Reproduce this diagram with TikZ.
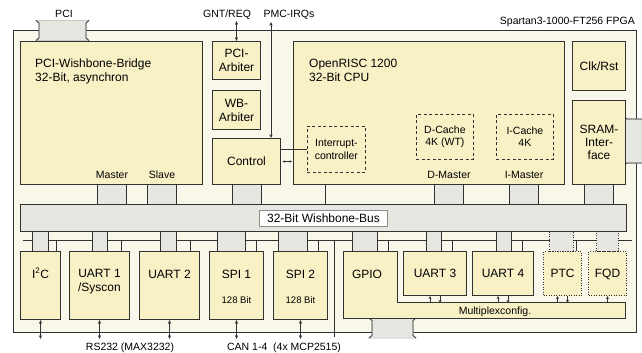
\documentclass[tikz,border=0pt]{standalone}
\usepackage{fontspec}
\setmainfont{Liberation Sans}
\usetikzlibrary{arrows.meta,positioning}

\definecolor{fpgabg}{RGB}{249,246,234}
\definecolor{blkfill}{RGB}{248,241,198}
\definecolor{stubfill}{RGB}{231,231,225}
\definecolor{lineclr}{RGB}{50,50,50}

\tikzset{
  blk/.style={draw=lineclr, line width=1pt, fill=blkfill, anchor=north west, inner sep=0pt,
    font=\fontsize{12}{14}\selectfont},
  stub/.style={draw=lineclr, line width=1pt, fill=stubfill, anchor=north west, inner sep=0pt},
  cacheblk/.style={draw=lineclr, line width=0.8pt, dash pattern=on 3pt off 2.5pt, anchor=north west,
    inner sep=0pt, align=center, font=\fontsize{10.5}{12.5}\selectfont},
  optblk/.style={blk, dash pattern=on 1pt off 1.5pt},
  optstub/.style={stub, dash pattern=on 1pt off 1.5pt},
  wire/.style={draw=lineclr, line width=0.8pt},
  biarrow/.style={wire, {Stealth[length=3.8pt,width=3.2pt]}-{Stealth[length=3.8pt,width=3.2pt]}},
  onetip/.style={wire, -{Stealth[length=3pt,width=2.8pt]}},
  lbl/.style={font=\fontsize{12}{14}\selectfont, anchor=base, inner sep=0pt},
  smalllbl/.style={font=\fontsize{10.5}{12}\selectfont, anchor=base, inner sep=0pt},
  tinylbl/.style={font=\fontsize{9.5}{11}\selectfont, anchor=base, inner sep=0pt},
}

\begin{document}
\begin{tikzpicture}[x=1pt, y=-1pt]
\useasboundingbox (0,0) rectangle (642,353);
% FPGA
\node[blk, fill=fpgabg, minimum width=623pt, minimum height=302pt] (fpga) at (13,30) {};
\node[smalllbl, anchor=base east] at (635,24.5) {Spartan3-1000-FT256 FPGA};

% Stecker
\filldraw[fill=stubfill, draw=black!30, line width=0.5pt] (36,20.5) -- (89,20.5) -- (86,23) -- (86,38)
  -- (89,40.5) -- (36,40.5) -- (39,38) -- (39,23) -- cycle;
\draw[wire] (36,20.5) -- (39,23) -- (39,38) -- (36,40.5);
\draw[wire] (89,20.5) -- (86,23) -- (86,38) -- (89,40.5);
\filldraw[fill=stubfill, draw=black!30, line width=0.5pt] (624,116.5) -- (627,119) -- (642,119)
  -- (642,163) -- (627,163) -- (624,165.5) -- cycle;
\draw[wire] (624,116.5) -- (627,119) -- (642,119);
\draw[wire] (624,165.5) -- (627,163) -- (642,163);
\filldraw[fill=stubfill, draw=black!30, line width=0.5pt] (369,318) -- (372,320.5) -- (372,335.5)
  -- (369,338) -- (416,338) -- (413,335.5) -- (413,320.5) -- (416,318) -- cycle;
\draw[wire] (369,318) -- (372,320.5) -- (372,335.5) -- (369,338);
\draw[wire] (416,318) -- (413,320.5) -- (413,335.5) -- (416,338);

% obere Bloecke
\node[blk, minimum width=182pt, minimum height=143pt] (bridge) at (20,41) {};
\node[lbl, anchor=north west, align=left] at (35,59) {PCI-Wishbone-Bridge\\32-Bit, asynchron};
\node[blk, minimum width=48pt, minimum height=38pt, align=center] (pciarb) at (212,41) {PCI-\\Arbiter};
\node[blk, minimum width=48pt, minimum height=39pt, align=center] (wbarb) at (212,90) {WB-\\Arbiter};
\node[blk, minimum width=68pt, minimum height=46pt] (ctrl) at (212,138) {Control};
\node[blk, minimum width=271pt, minimum height=143pt] (cpu) at (293,41) {};
\node[lbl, anchor=north west, align=left] at (309,59) {OpenRISC 1200\\32-Bit CPU};
\node[cacheblk, minimum width=58pt, minimum height=46pt] (pic) at (307,126) {Interrupt-\\controller};
\node[cacheblk, minimum width=57pt, minimum height=45pt] (dcache) at (416,114) {D-Cache\\4K (WT)};
\node[cacheblk, minimum width=57pt, minimum height=45pt] (icache) at (496,114) {I-Cache\\4K};
\node[blk, minimum width=53pt, minimum height=49pt] (clk) at (572,41) {Clk/Rst};
\node[blk, minimum width=53pt, minimum height=84pt, align=center, font=\fontsize{12}{13}\selectfont]
  (sram) at (572,100) {SRAM-\\Inter-\\face};

\draw[biarrow] (pciarb.north) -- ++(0,-20);
\draw[biarrow] ([xshift=-10pt]ctrl.north east) -- ++(0,-116);
\node[smalllbl] at (64,17.5) {PCI};
\node[smalllbl] at (227,17.5) {GNT/REQ};
\node[smalllbl] at (289,17.5) {PMC-IRQs};
\draw[wire] (ctrl.east |- pic.west) -- (pic.west);
\draw[biarrow, {Stealth[length=2.5pt,width=2.4pt]}-{Stealth[length=2.5pt,width=2.4pt]},
  shorten <=1.5pt, shorten >=1pt] (ctrl.east) -- (ctrl.east -| cpu.west);
\draw[wire] ([xshift=32pt]cpu.south west) -- ([xshift=32pt,yshift=-20pt]cpu.south west);

% Wishbone-Bus
\foreach \n/\x in {mstub/97, sstub/147, cstub/232, dstub/434, istub/509, rstub/584}
  \node[stub, minimum width=29pt, minimum height=20pt] (\n) at (\x,184) {};
\foreach \n/\t in {mstub/Master, sstub/Slave, dstub/D-Master, istub/I-Master}
  \node[smalllbl] at ([yshift=6pt]\n.north) {\t};
\node[stub, minimum width=606pt, minimum height=27pt] (bus) at (20,204) {};
\node[lbl, anchor=center, fill=white, draw=black!45, line width=0.6pt, minimum width=128pt,
  minimum height=16pt] (buslbl) at (bus.center) {32-Bit Wishbone-Bus};

% IRQ-Leitung
\coordinate (irqL) at (23,240);
\coordinate (irqR) at (632,240);
\draw[wire] (irqL) -- (irqR);

% Peripherie
\foreach \n/\x/\w in {i2cst/32/16, u1st/92/15, u2st/160/16, s1st/217/28, s2st/278/29,
  gpst/352/25, u3st/426/15, u4st/496/15}
  \node[stub, minimum width=\w pt, minimum height=20pt] (\n) at (\x,231) {};
\node[optstub, minimum width=24pt, minimum height=20pt] (ptcst) at (549,231) {};
\node[optstub, minimum width=22pt, minimum height=20pt] (fqdst) at (596,231) {};

\foreach \n/\x/\w in {i2c/20/40, uart1/69/60, uart2/139/60, spi1/209/54, spi2/273/54}
  \node[blk, minimum width=\w pt, minimum height=68pt] (\n) at (\x,251) {};
\node[blk, minimum width=63pt, minimum height=44pt] (uart3) at (403,251) {};
\node[blk, minimum width=61pt, minimum height=44pt] (uart4) at (472,251) {};
\node[optblk, minimum width=38pt, minimum height=44pt] (ptc) at (543,251) {};
\node[optblk, minimum width=38pt, minimum height=44pt] (fqd) at (588,251) {};
\draw[blk] (343,251) coordinate (gpio) -| (397,302) -| (625,318) -| (343,251) -- cycle;

\node[lbl] at ([yshift=-27pt]i2c.north) {I\textsuperscript{2}C};
\node[lbl, anchor=north, align=center] at ([yshift=-18.5pt]uart1.north) {UART 1\\/Syscon};
\node[lbl] at ([yshift=-27pt]uart2.north) {UART 2};
\node[lbl] at ([yshift=-27pt]spi1.north) {SPI 1};
\node[tinylbl] at ([yshift=-52pt]spi1.north) {128 Bit};
\node[lbl] at ([yshift=-27pt]spi2.north) {SPI 2};
\node[tinylbl] at ([yshift=-52pt]spi2.north) {128 Bit};
\node[lbl] at ([xshift=24pt,yshift=-27pt]gpio) {GPIO};
\foreach \n/\t in {uart3/UART 3, uart4/UART 4, ptc/PTC, fqd/FQD}
  \node[lbl] at ([yshift=-26pt]\n.north) {\t};
\node[smalllbl] at (495,314) {Multiplexconfig.};

\foreach \n/\d in {i2c/5, uart1/9, uart2/10, spi1/8, spi2/10, uart3/15, uart4/12, ptc/6}
  \draw[wire] ([xshift=-\d pt]\n.north east) -- ++(0,-11);
\draw[wire] ([xshift=45pt]gpio) -- ++(0,-11);
\draw[wire] ([xshift=6pt,yshift=11pt]spi2.north east) -- ++(0,97);

\foreach \n in {uart3, uart4, ptc} {
  \draw[onetip] ([xshift=-5pt,yshift=-7pt]\n.south) -- ([xshift=-5pt]\n.south);
  \draw[onetip] ([xshift=5pt]\n.south) -- ([xshift=5pt,yshift=-7pt]\n.south);
}
\draw[onetip] ([yshift=-7pt]fqd.south) -- (fqd.south);

\foreach \n in {i2c, uart1, uart2, spi1, spi2}
  \draw[biarrow] (\n.south) -- ++(0,19);
\node[smalllbl] at (130,350) {RS232 (MAX3232)};
\node[smalllbl] at (284,350) {CAN 1-4\ \ (4x MCP2515)};
\end{tikzpicture}
\end{document}
